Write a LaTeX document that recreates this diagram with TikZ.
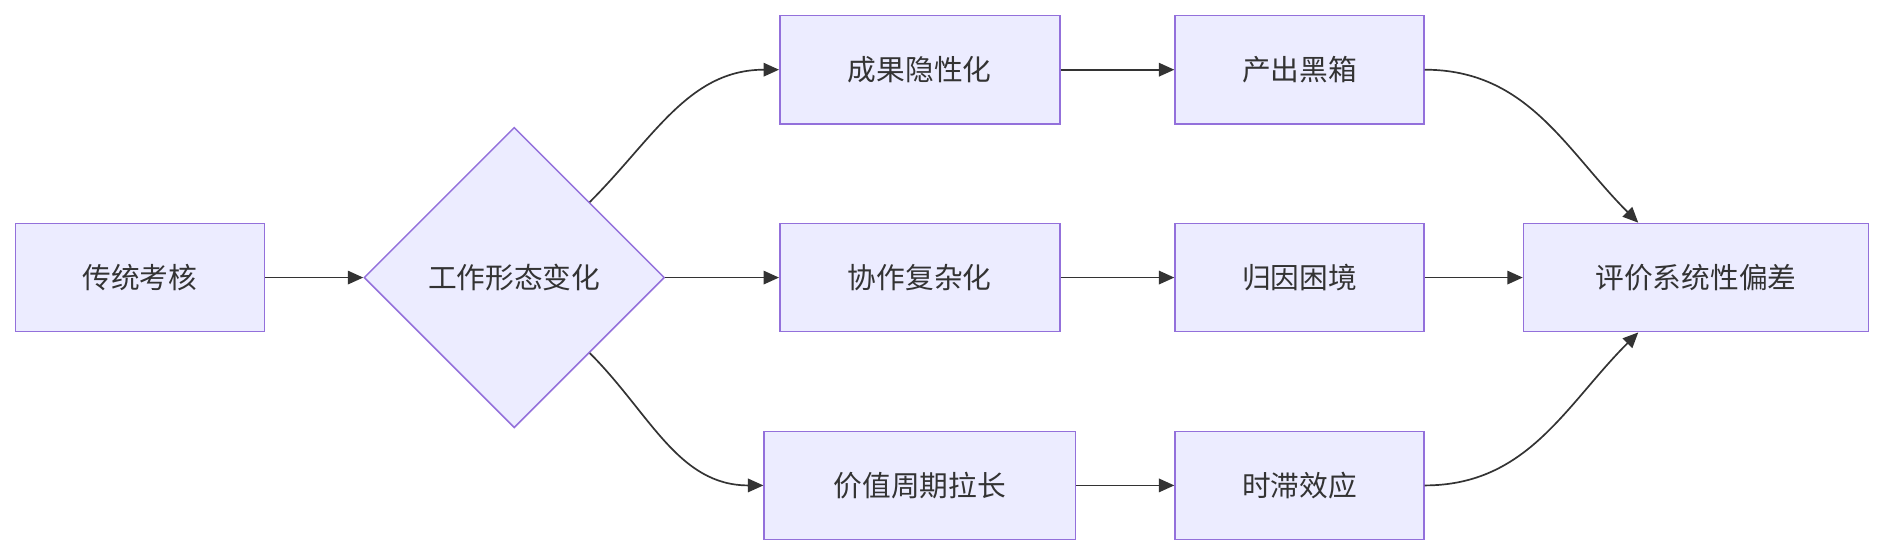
\documentclass[tikz,border=0pt]{standalone}
\usepackage{fontspec}
\setmainfont{Noto Sans CJK SC}
\usetikzlibrary{arrows.meta,shapes.geometric}
\definecolor{boxfill}{HTML}{ECECFF}
\definecolor{boxline}{HTML}{9370DB}
\definecolor{edgeline}{HTML}{333333}
\tikzset{
  box/.style={rectangle, draw=boxline, fill=boxfill, line width=0.9pt, minimum height=2.25cm, inner sep=0pt, font=\fontsize{17}{20}\selectfont, text=edgeline},
  gate/.style={diamond, aspect=1, draw=boxline, fill=boxfill, line width=0.9pt, minimum width=6.25cm, minimum height=6.25cm, inner sep=0pt, font=\fontsize{17}{20}\selectfont, text=edgeline},
  flow/.style={draw=edgeline, line width=1pt, -{Triangle[length=3.2mm, width=2.8mm]}}
}
\begin{document}
\begin{tikzpicture}[x=0.025cm, y=-0.025cm]
  \useasboundingbox (0,0) rectangle (1568,463);

  \node [box, minimum width=5.175cm]  (kaohe)   at (116.5,231)  {传统考核};
  \node [gate]                         (xingtai) at (428,231)    {工作形态变化};

  \node [box, minimum width=5.825cm]  (yinxing) at (765.5,58)   {成果隐性化};
  \node [box, minimum width=5.825cm]  (xiezuo)  at (765.5,231)  {协作复杂化};
  \node [box, minimum width=6.475cm]  (zhouqi)  at (765.5,404)  {价值周期拉长};

  \node [box, minimum width=5.175cm]  (heixiang) at (1081.5,58)  {产出黑箱};
  \node [box, minimum width=5.175cm]  (guiyin)   at (1081.5,231) {归因困境};
  \node [box, minimum width=5.175cm]  (shizhi)   at (1081.5,404) {时滞效应};

  \node [box, minimum width=7.175cm]  (piancha)  at (1411.5,231) {评价系统性偏差};

  \draw [flow] (kaohe) -- (xingtai);
  \draw [flow] (xingtai.north east) to[out=45, in=180] (yinxing.west);
  \draw [flow] (xingtai) -- (xiezuo);
  \draw [flow] (xingtai.south east) to[out=-45, in=180] (zhouqi.west);

  \draw [flow] (yinxing) -- (heixiang);
  \draw [flow] (xiezuo) -- (guiyin);
  \draw [flow] (zhouqi) -- (shizhi);

  \draw [flow] (heixiang.east) to[out=0, in=135] ([xshift=-1.2cm]piancha.north);
  \draw [flow] (guiyin) -- (piancha);
  \draw [flow] (shizhi.east) to[out=0, in=-135] ([xshift=-1.2cm]piancha.south);
\end{tikzpicture}
\end{document}
